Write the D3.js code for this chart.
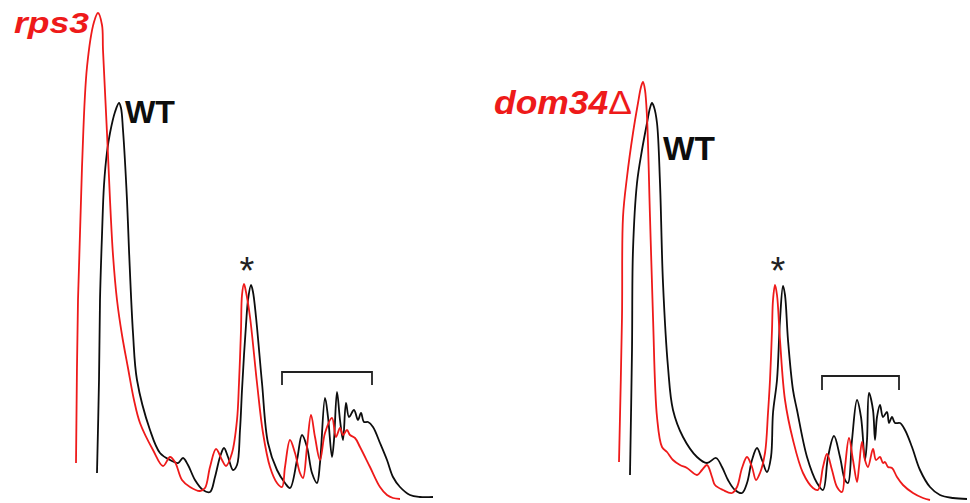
<!DOCTYPE html>
<html>
<head>
<meta charset="utf-8">
<script src="https://cdn.jsdelivr.net/npm/d3@7"></script>
<style>
  body { margin: 0; background: #ffffff; }
  text { font-family: "Liberation Sans", Arial, sans-serif; }
</style>
</head>
<body>
<script>
var redcolour = "#ee1a1a";
var blackcolour = "#0d0d0d";

// polysome traces: [position along gradient, A254 signal]
var rps3Trace = [[6,37],[8,200],[12,333],[17,433],[24,478],[28,487],[32,475],[33,450],[37,367],[40,300],[43,245],[47,200],
  [52,165],[58,132],[64,100],[70,77],[83,50],[93,34],[100,43],[105,38],[112,20],[120,13],[130,9],[135,12],[140,33],[146,51],[152,40],
  [156,34],[162,47],[167,80],[169,117],[171,170],[172,205],[174,216],[176,208],[180,183],[187,117],[193,67],[200,33],
  [207,17],[212,13],[215,33],[220,60],[225,47],[230,27],[233,22],[237,53],[241,85],[245,63],[250,40],[255,67],[262,82],
  [266,63],[270,72],[273,65],[277,70],[280,65],[285,62],[290,53],[300,33],[310,13],[317,5],[323,2],[330,1]];

var wtTraceA = [[27,27],[29,120],[30,200],[32,265],[34,315],[37,348],[40,367],[45,388],[49,397],[51,392],[53,370],[57,300],[59,250],[63,167],
  [67,120],[80,70],[90,47],[100,40],[108,37],[113,42],[118,35],[125,20],[133,10],[140,8],[145,23],[150,43],[154,52],
  [158,43],[163,30],[167,35],[170,70],[172,110],[174,145],[176,175],[178,200],[181,215],[183,208],[186,183],[192,117],
  [198,57],[207,30],[215,17],[220,12],[227,40],[232,65],[237,53],[242,27],[247,17],[250,37],[255,102],[258,83],[262,43],
  [264,60],[267,108],[270,80],[273,60],[276,97],[279,83],[284,90],[288,80],[291,87],[294,78],[298,78],[303,73],[310,57],
  [317,40],[323,23],[330,13],[340,5],[350,3],[363,3]];

var dom34Trace = [[9,38],[12,183],[13,283],[17,323],[23,367],[28,397],[31,413],[33,418],[35,410],[37,383],[40,283],[43,183],
  [47,83],[52,53],[57,48],[63,40],[70,35],[77,32],[87,25],[92,30],[97,35],[102,23],[105,15],[113,10],[122,7],[127,13],
  [132,32],[137,43],[142,33],[146,20],[150,27],[155,47],[158,87],[160,120],[162,170],[163,200],[165,215],[167,205],
  [170,160],[175,100],[183,60],[193,27],[203,12],[208,10],[213,33],[217,46],[222,30],[227,13],[232,8],[235,33],[239,62],
  [243,40],[247,18],[249,33],[252,58],[255,40],[258,33],[263,51],[266,40],[270,43],[273,37],[275,38],[278,33],[282,32],
  [287,23],[293,15],[303,7],[313,2],[320,0]];

var wtTraceB = [[20,25],[22,150],[23,250],[27,317],[32,350],[37,377],[40,392],[42,397],[44,393],[47,377],[50,317],[53,217],
  [58,133],[63,90],[73,63],[87,43],[97,37],[106,42],[112,33],[118,20],[125,10],[132,7],[137,17],[142,40],[147,52],
  [152,40],[157,28],[161,43],[163,87],[167,120],[170,180],[173,214],[175,205],[178,160],[183,110],[187,90],[197,43],
  [207,17],[213,10],[218,43],[224,64],[230,43],[235,20],[238,17],[242,60],[247,100],[251,83],[255,40],[257,60],[259,107],
  [263,90],[265,60],[267,83],[270,95],[273,83],[277,88],[279,77],[282,83],[285,77],[290,77],[295,70],[302,53],[310,30],
  [320,13],[330,5],[343,2],[357,1]];

// annotations: [x, signal]
var labelsA = [{t: "rps3", sym: "", x: -56, y: 467, c: redcolour, italic: true, size: 30, len: 75},
               {t: "WT", sym: "", x: 55, y: 377, c: blackcolour, italic: false, size: 32, len: 50}];
var labelsB = [{t: "dom34", sym: "\u0394", x: -116, y: 386, c: redcolour, italic: true, size: 34, len: 138},
               {t: "WT", sym: "", x: 53, y: 340, c: blackcolour, italic: false, size: 33, len: 52}];
var starA = [177, 216];
var starB = [168, 216];
var bracketA = [212, 302, 128, 115];
var bracketB = [212, 289, 124, 110];

var svg = d3.select("body").append("svg")
    .attr("width", 970)
    .attr("height", 503);

var y = d3.scaleLinear().domain([0, 500]).range([500, 0]);

function panel(x, red, black, labels, star, bracket) {
  var line = d3.line()
      .x(function(d) { return x(d[0]); })
      .y(function(d) { return y(d[1]); })
      .curve(d3.curveCatmullRom.alpha(0.5));

  var g = svg.append("g");

  g.append("path").datum(black)
      .attr("d", line)
      .attr("fill", "none")
      .attr("stroke", blackcolour)
      .attr("stroke-width", 1.8);

  g.append("path").datum(red)
      .attr("d", line)
      .attr("fill", "none")
      .attr("stroke", redcolour)
      .attr("stroke-width", 1.8);

  var lbl = g.selectAll(".lbl").data(labels).enter().append("text")
      .attr("class", "lbl")
      .attr("x", function(d) { return x(d.x); })
      .attr("y", function(d) { return y(d.y); })
      .attr("fill", function(d) { return d.c; })
      .attr("font-size", function(d) { return d.size; })
      .attr("font-weight", "bold")
      .attr("font-style", function(d) { return d.italic ? "italic" : "normal"; })
      .attr("textLength", function(d) { return d.len; })
      .attr("lengthAdjust", "spacingAndGlyphs")
      .text(function(d) { return d.t; });

  // delta sign is upright and thin
  lbl.filter(function(d) { return d.sym; })
      .append("tspan")
      .attr("font-style", "normal")
      .attr("font-weight", "normal")
      .text(function(d) { return d.sym; });

  g.append("text")
      .attr("x", x(star[0]))
      .attr("y", y(star[1]))
      .attr("text-anchor", "middle")
      .attr("font-size", 38)
      .attr("fill", "#222")
      .text("*");

  g.append("path")
      .attr("d", "M" + x(bracket[0]) + "," + y(bracket[3]) +
                 "V" + y(bracket[2]) + "H" + x(bracket[1]) + "V" + y(bracket[3]))
      .attr("fill", "none")
      .attr("stroke", "#222")
      .attr("stroke-width", 1.8);
}

panel(d3.scaleLinear().domain([0, 370]).range([70, 440]), rps3Trace, wtTraceA, labelsA, starA, bracketA);
panel(d3.scaleLinear().domain([0, 360]).range([610, 970]), dom34Trace, wtTraceB, labelsB, starB, bracketB);
</script>
</body>
</html>
